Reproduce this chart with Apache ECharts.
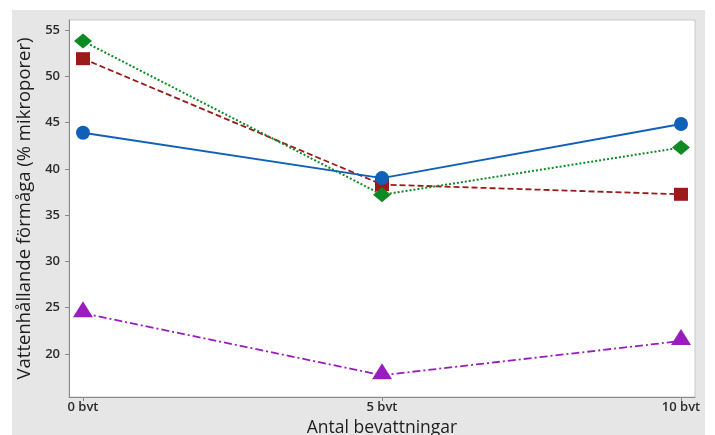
<!DOCTYPE html>
<html>
<head>
<meta charset="utf-8">
<script src="https://cdn.jsdelivr.net/npm/echarts@6/dist/echarts.min.js"></script>
<style>
  html, body { margin: 0; padding: 0; background: #ffffff; }
  #chart { width: 715px; height: 435px; }
</style>
</head>
<body>
<div id="chart"></div>
<script>
// Antal bevattningar (x) och vattenhållande förmåga (y)
const irrigations = [0, 5, 10];
const xTickLabels = ['0 bvt', '5 bvt', '10 bvt'];
const yTicks = [20, 25, 30, 35, 40, 45, 50, 55];

const seriesBlue = [43.9, 39.0, 44.85];
const seriesRed = [51.9, 38.3, 37.25];
const seriesGreen = [53.8, 37.2, 42.3];
const seriesPurple = [24.4, 17.7, 21.4];

const pairs = vals => irrigations.map((x, i) => [x, vals[i]]);

const chart = echarts.init(document.getElementById('chart'), null, { renderer: 'canvas' });

const labelFont = { fontFamily: 'Open Sans', fontSize: 13, fontWeight: 600, color: '#2b2b2b' };
const titleFont = { fontFamily: 'Open Sans', fontSize: 17.5, fontWeight: 500, color: '#1e1e1e' };

function lineSeries(name, vals, color, symbol, size, dash, width, offset) {
  return {
    name: name,
    type: 'line',
    data: pairs(vals),
    symbol: symbol,
    symbolSize: size,
    symbolOffset: offset || [0, 0],
    showSymbol: true,
    lineStyle: { color: color, width: width, type: dash },
    itemStyle: { color: color, borderWidth: 0 },
    emphasis: { disabled: true },
    animation: false
  };
}

chart.setOption({
  backgroundColor: '#ffffff',
  graphic: [{
    type: 'rect',
    shape: { x: 12, y: 10, width: 693, height: 425 },
    style: { fill: '#e6e6e6' },
    z: -10,
    silent: true
  }],
  grid: {
    left: 69, top: 20, right: 20, bottom: 38,
    outerBoundsMode: 'none',
    containLabel: false,
    show: true,
    backgroundColor: '#ffffff',
    borderColor: '#c8c8c8',
    borderWidth: 1
  },
  xAxis: {
    type: 'value',
    min: -0.234,
    max: 10.234,
    name: 'Antal bevattningar',
    nameLocation: 'middle',
    nameGap: 20,
    nameTextStyle: titleFont,
    splitLine: { show: false },
    axisLine: { show: true, onZero: false, lineStyle: { color: '#8a8a8a', width: 1 } },
    axisTick: { show: true, length: 4, lineStyle: { color: '#8a8a8a' }, customValues: irrigations },
    axisLabel: Object.assign({
      margin: 4,
      customValues: irrigations,
      formatter: v => xTickLabels[irrigations.indexOf(v)]
    }, labelFont)
  },
  yAxis: {
    type: 'value',
    min: 15.35,
    max: 56.08,
    name: 'Vattenhållande förmåga (% mikroporer)',
    nameLocation: 'middle',
    nameGap: 34,
    nameTextStyle: Object.assign({}, titleFont, { fontSize: 18.5 }),
    splitLine: { show: false },
    axisLine: { show: true, onZero: false, lineStyle: { color: '#8a8a8a', width: 1 } },
    axisTick: { show: true, length: 4, lineStyle: { color: '#8a8a8a' }, customValues: yTicks },
    axisLabel: Object.assign({ margin: 9, customValues: yTicks }, labelFont)
  },
  series: [
    lineSeries('Serie 2', seriesRed, '#9c1a1a', 'rect', [14, 13], [6, 3], 1.8),
    lineSeries('Serie 3', seriesGreen, '#0e8a24', 'diamond', [18, 15], [2, 2], 2),
    lineSeries('Serie 1', seriesBlue, '#1060b8', 'circle', 14, 'solid', 1.9),
    lineSeries('Serie 4', seriesPurple, '#9a1cbf', 'triangle', [20, 16], [8, 3, 2, 3], 1.8, [0, -4])
  ]
});
</script>
</body>
</html>
